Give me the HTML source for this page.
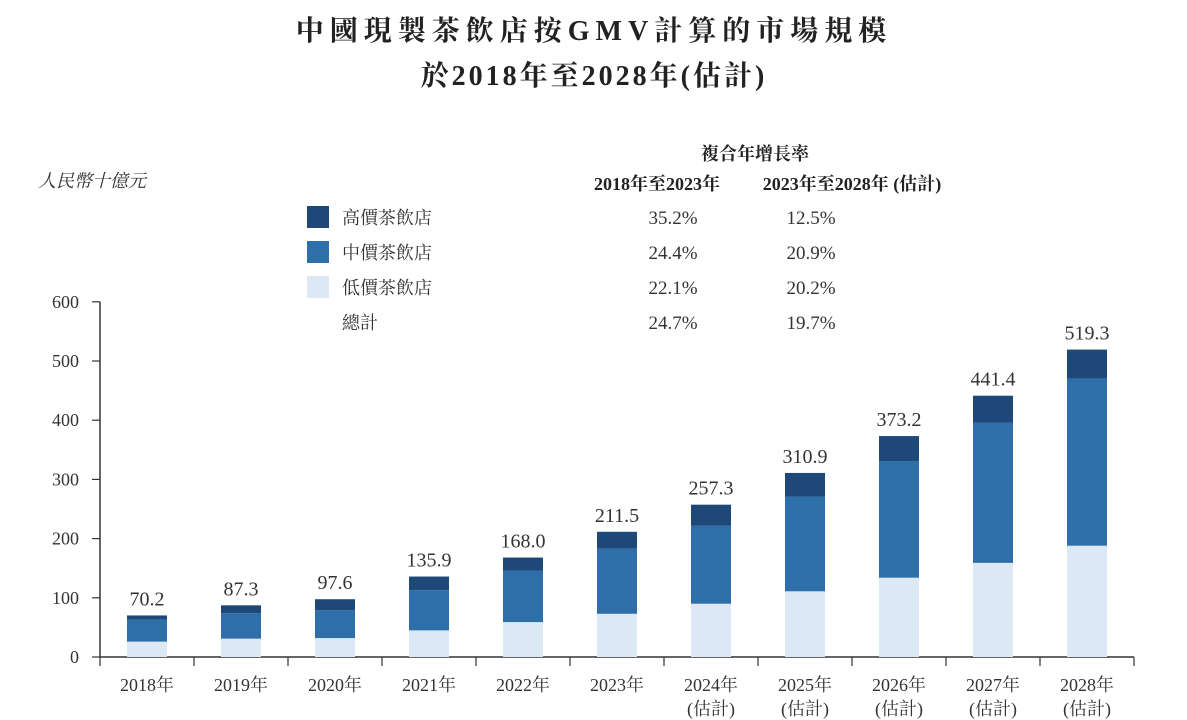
<!DOCTYPE html>
<html><head><meta charset="utf-8"><style>
body{margin:0;background:#fff;}
svg{display:block;font-family:"Liberation Serif","Noto Serif CJK SC","Noto Sans CJK TC",serif;}
</style></head><body>
<svg id="chart" width="1187" height="720" viewBox="0 0 1187 720" xmlns="http://www.w3.org/2000/svg">
<text x="594" y="40" text-anchor="middle" font-size="28" font-weight="bold" fill="#222" letter-spacing="6">中國現製茶飲店按GMV計算的市場規模</text>
<text x="594" y="85" text-anchor="middle" font-size="28" font-weight="bold" fill="#222" letter-spacing="3">於2018年至2028年(估計)</text>
<text x="38" y="187" font-size="18" font-style="italic" fill="#333">人民幣十億元</text>
<text x="755" y="160" text-anchor="middle" font-size="18" font-weight="bold" fill="#222">複合年增長率</text>
<text x="657" y="190" text-anchor="middle" font-size="18" font-weight="bold" fill="#222">2018年至2023年</text>
<text x="852" y="190" text-anchor="middle" font-size="18" font-weight="bold" fill="#222">2023年至2028年 (估計)</text>
<g id="legend"></g>
<g id="axes"></g>
<g id="bars"></g>
</svg>
<script>
const categories=["2018年","2019年","2020年","2021年","2022年","2023年","2024年","2025年","2026年","2027年","2028年"];
const estimated=[false,false,false,false,false,false,true,true,true,true,true];
const lowValues=[26,31,32,45,59,73,90,111,134,159,188];
const midValues=[37,43,47,68,87,110,132,160,197,237,282];
const highValues=[7.2,13.3,18.6,22.9,22,28.5,35.3,39.9,42.2,45.4,49.3];
const totals=["70.2","87.3","97.6","135.9","168.0","211.5","257.3","310.9","373.2","441.4","519.3"];
const yTicks=[0,100,200,300,400,500,600];
const legendNames=["高價茶飲店","中價茶飲店","低價茶飲店","總計"];
const cagr1=["35.2%","24.4%","22.1%","24.7%"];
const cagr2=["12.5%","20.9%","20.2%","19.7%"];
const colors=["#1d4877","#2e6ea9","#dce8f4",null];

const NS="http://www.w3.org/2000/svg";
function mk(tag,attrs,parent,text){const e=document.createElementNS(NS,tag);for(const k in attrs)e.setAttribute(k,attrs[k]);if(text!==undefined)e.textContent=text;parent.appendChild(e);return e;}
const x0=100,step=94,baseY=657,pxPer=0.592,barW=40;
function yS(v){return baseY-v*pxPer;}
function xC(i){return x0+step*(i+0.5);}

const axes=document.getElementById('axes');
let l=mk('line',{x1:x0,y1:yS(600),x2:x0,y2:baseY,stroke:'#333','stroke-width':1.5},axes);

l=mk('line',{x1:x0,y1:baseY,x2:x0+step*categories.length,y2:baseY,stroke:'#333','stroke-width':1.5},axes);

yTicks.forEach(v=>{
  const t=mk('line',{x1:x0-8,y1:yS(v),x2:x0,y2:yS(v),stroke:'#333','stroke-width':1.2},axes);
  
  const tx=mk('text',{x:x0-21,y:yS(v)+6,'text-anchor':'end','font-size':18,fill:'#333'},axes,String(v));
  
});
for(let i=0;i<=categories.length;i++){
  const t=mk('line',{x1:x0+step*i,y1:baseY,x2:x0+step*i,y2:baseY+9,stroke:'#333','stroke-width':1.2},axes);
  
}
const bars=document.getElementById('bars');
categories.forEach((c,i)=>{
  const cx=xC(i);
  const segs=[lowValues[i],midValues[i],highValues[i]];
  const cols=[colors[2],colors[1],colors[0]];
  const nm=['bar-low','bar-mid','bar-high'];
  let acc=0;
  segs.forEach((v,k)=>{
    const r=mk('rect',{x:cx-barW/2,y:yS(acc+v),width:barW,height:v*pxPer,fill:cols[k]},bars);
    
    
    acc+=v;
  });
  const tl=mk('text',{x:cx,y:yS(acc)-10,'text-anchor':'middle','font-size':20,fill:'#333'},bars,totals[i]);
  
  
  const xl=mk('text',{x:cx,y:baseY+34,'text-anchor':'middle','font-size':18,fill:'#333'},bars,c);
  
  
  if(estimated[i]){
    const el=mk('text',{x:cx,y:baseY+58,'text-anchor':'middle','font-size':18,fill:'#333'},bars,'(估計)');
    
    
  }
});
const lg=document.getElementById('legend');
legendNames.forEach((n,i)=>{
  const y=217+i*35;
  if(colors[i]){
    const r=mk('rect',{x:307,y:y-11,width:22,height:22,fill:colors[i]},lg);
    
    
  }
  const t=mk('text',{x:342,y:y+7,'font-size':18,fill:'#333'},lg,n);
  
  
  const a=mk('text',{x:673,y:y+7,'text-anchor':'middle','font-size':19,fill:'#333'},lg,cagr1[i]);
  
  
  const b=mk('text',{x:811,y:y+7,'text-anchor':'middle','font-size':19,fill:'#333'},lg,cagr2[i]);
  
  
});
</script>
</body></html>
